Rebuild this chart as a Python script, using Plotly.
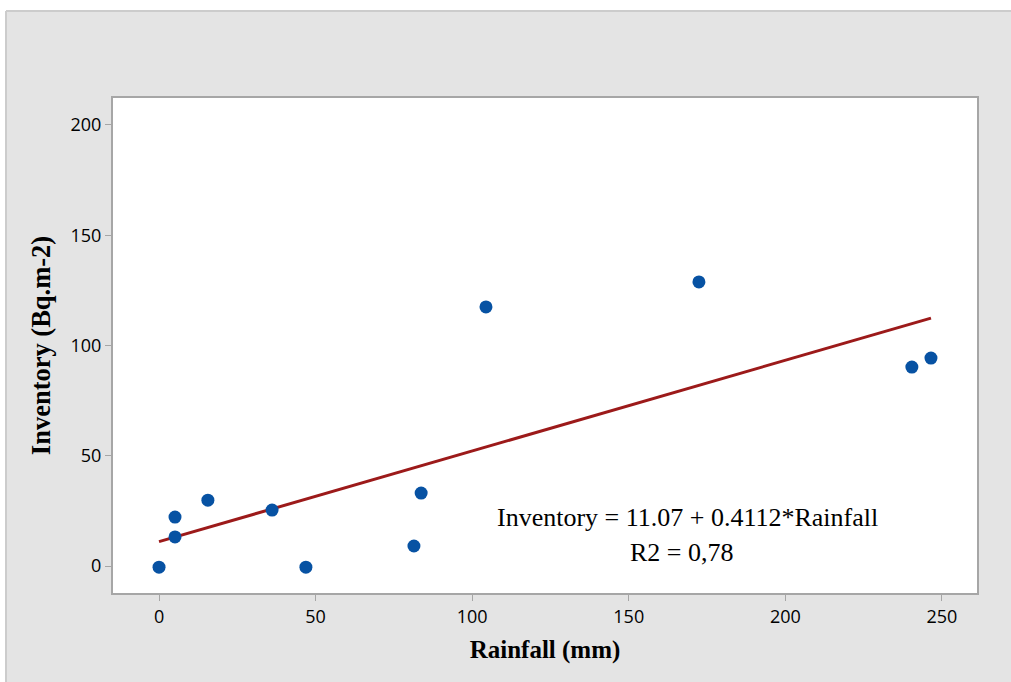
import plotly.graph_objects as go

rainfall = [0, 5.1, 5.1, 15.6, 36.1, 46.9, 81.4, 83.7, 104.4, 172.4, 240.4, 246.5]
inventory = [-0.5, 13.2, 22.2, 29.9, 25.4, -0.5, 9.1, 33.1, 117.5, 128.8, 90.2, 94.3]
intercept = 11.07
slope = 0.4112
fit_x = [0, 246.5]
fit_y = [intercept + slope * v for v in fit_x]

x_ticks = [0, 50, 100, 150, 200, 250]
y_ticks = [0, 50, 100, 150, 200]

W, H = 1011, 682
ml, mr, mt, mb = 113, 34, 98, 89
pw, ph = W - ml - mr, H - mt - mb

def px2paper_x(px):
    return (px - ml) / pw

def px2paper_y(py):
    return (H - mb - py) / ph

fig = go.Figure()
fig.add_trace(go.Scatter(x=fit_x, y=fit_y, mode="lines",
                         line=dict(color="#9c1a1a", width=3), showlegend=False))
fig.add_trace(go.Scatter(x=rainfall, y=inventory, mode="markers",
                         marker=dict(color="#0752a3", size=13), showlegend=False))

axis_common = dict(showgrid=False, zeroline=False, showline=True, mirror=True,
                   linecolor="#a6a6a6", linewidth=2, ticks="outside", ticklen=6,
                   tickcolor="#a6a6a6", tickwidth=1,
                   tickfont=dict(family="Open Sans", size=18, color="black"))

fig.update_xaxes(range=[-14.7, 261.2], tickvals=x_ticks,
                 title=dict(text="<b>Rainfall (mm)</b>",
                            font=dict(family="Liberation Serif", size=25, color="black"),
                            standoff=14),
                 **axis_common)
fig.update_yaxes(range=[-12.2, 212.2], tickvals=y_ticks,
                 title=dict(text="<b>Inventory (Bq.m-2)</b>",
                            font=dict(family="Liberation Serif", size=26.5, color="black"),
                            standoff=12),
                 **axis_common)

fig.add_annotation(x=168.6, y=22.2, text="Inventory = 11.07 + 0.4112*Rainfall",
                   showarrow=False, font=dict(family="Liberation Serif", size=26, color="black"))
fig.add_annotation(x=167.0, y=6.3, text="R2 = 0,78",
                   showarrow=False, font=dict(family="Liberation Serif", size=26, color="black"))

# white outer strips and light border around the gray panel
x_left = px2paper_x(6)
y_top = px2paper_y(11)
shapes = [
    dict(type="rect", xref="paper", yref="paper", x0=-0.3, x1=1.3, y0=y_top, y1=1.4,
         fillcolor="white", line=dict(width=0), layer="below"),
    dict(type="rect", xref="paper", yref="paper", x0=-0.3, x1=x_left, y0=-0.4, y1=1.4,
         fillcolor="white", line=dict(width=0), layer="below"),
    dict(type="line", xref="paper", yref="paper", x0=x_left, x1=1.3, y0=y_top, y1=y_top,
         line=dict(color="#cccccc", width=2), layer="below"),
    dict(type="line", xref="paper", yref="paper", x0=x_left, x1=x_left, y0=-0.4, y1=y_top,
         line=dict(color="#cccccc", width=2), layer="below"),
]

fig.update_layout(width=W, height=H, margin=dict(l=ml, r=mr, t=mt, b=mb),
                  paper_bgcolor="#e4e4e4", plot_bgcolor="white", shapes=shapes)

fig.write_html("out.html")
